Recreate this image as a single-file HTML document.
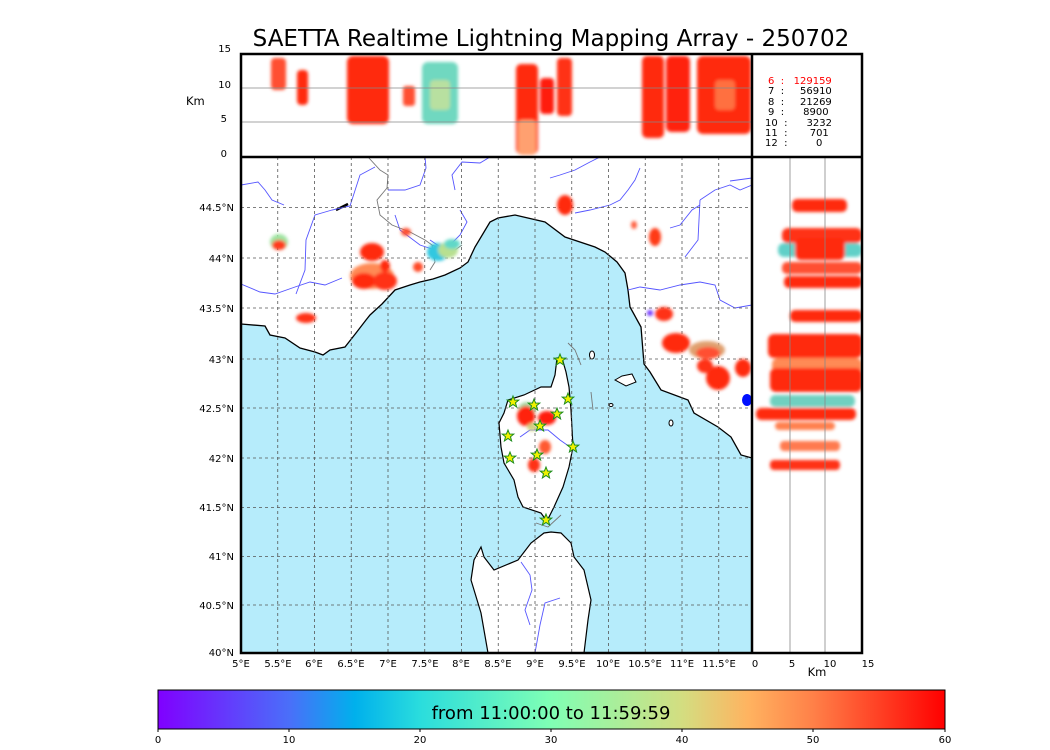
<!DOCTYPE html>
<html><head><style>
body{margin:0;background:#fff;}
svg{display:block;font-family:"DejaVu Sans","Liberation Sans",sans-serif;}
</style></head><body>
<svg width="1050" height="750" viewBox="0 0 1050 750" xmlns="http://www.w3.org/2000/svg">
<defs>
<linearGradient id="cb" x1="0" x2="1" y1="0" y2="0">
<stop offset="0" stop-color="#8000ff"/>
<stop offset="0.167" stop-color="#4a6ff9"/>
<stop offset="0.25" stop-color="#00b0ec"/>
<stop offset="0.333" stop-color="#2adddd"/>
<stop offset="0.5" stop-color="#80ffb4"/>
<stop offset="0.667" stop-color="#d4dd80"/>
<stop offset="0.75" stop-color="#ffb360"/>
<stop offset="0.833" stop-color="#ff8048"/>
<stop offset="1" stop-color="#ff0000"/>
</linearGradient>
<filter id="bl" x="-50%" y="-50%" width="200%" height="200%"><feGaussianBlur stdDeviation="1.6"/></filter>
<clipPath id="mapc"><rect x="241" y="157" width="511" height="496"/></clipPath>
<clipPath id="topc"><rect x="241" y="54" width="511" height="103"/></clipPath>
<clipPath id="rc"><rect x="752" y="157" width="110" height="496"/></clipPath>
<polygon id="st" points="0,-6 1.6,-2 5.8,-1.9 2.5,0.8 3.6,5 0,2.5 -3.6,5 -2.5,0.8 -5.8,-1.9 -1.6,-2"/>
</defs>

<text x="551" y="46" font-size="23" text-anchor="middle" fill="#000">SAETTA Realtime Lightning Mapping Array - 250702</text>

<g clip-path="url(#mapc)">
<rect x="241" y="157" width="511" height="496" fill="#b6ecfb"/>
<polygon fill="#fff" stroke="#000" stroke-width="1.3" points="241,157 752,157 752,458 741,455 731,437 718,427 694,413 688,400 661,390 650,372 644,364 641,327 630,307 628,290 625,273 617,262 605,252 595,247 565,237 545,222 515,215 498,218 490,222 475,247 468,262 460,268 445,275 433,279 420,282 410,285 395,290 382,304 370,315 366,320 356,333 345,347 330,350 323,355 315,352 300,348 285,338 270,335 265,326 241,324"/>
<polygon fill="#fff" stroke="#000" stroke-width="1.2" points="557,358 562,358 566,372 569,387 571,410 573,447 569,467 563,487 554,507 549,517 546,520 541,513 523,507 518,497 514,480 504,463 501,447 499,423 504,413 508,400 524,395 541,387 551,387 555,375"/>
<polygon fill="#fff" stroke="#000" stroke-width="1.2" points="551,532 561,533 571,543 574,557 584,570 591,600 588,620 584,653 488,653 481,613 471,580 474,560 481,547 484,557 494,570 518,560 531,543 544,533"/>
<polygon fill="#fff" stroke="#000" stroke-width="1" points="615,380 622,376 632,374 636,382 626,386"/>
<ellipse cx="592" cy="355" rx="2.5" ry="4" fill="#fff" stroke="#000"/>
<ellipse cx="611" cy="405" rx="2" ry="1.5" fill="#fff" stroke="#000"/>
<ellipse cx="671" cy="423" rx="2" ry="3" fill="#fff" stroke="#000"/>
<path d="M336,210 L348,204" stroke="#000" stroke-width="2.5"/>
<g fill="none" stroke="#5555ff" stroke-width="0.9">
<path d="M241,185 L258,182 L265,190 L272,200 L284,205"/>
<path d="M241,284 L260,292 L275,294 L295,287 L310,282 L325,285 L342,278"/>
<path d="M296,294 L305,270 L306,240 L315,215 L332,210 L350,206 L360,175 L375,167"/>
<path d="M388,190 L405,190 L420,185 L426,168 L425,157"/>
<path d="M395,215 L400,230 L420,245 L435,250"/>
<path d="M455,190 L452,175 L462,162 L480,163 L490,157"/>
<path d="M430,240 L445,250 L460,235 L467,222 L460,210"/>
<path d="M550,178 L560,175 L575,170 L590,162 L600,157"/>
<path d="M575,213 L590,210 L610,205 L620,200 L628,190 L635,180 L640,168"/>
<path d="M628,290 L640,287 L660,290 L680,285 L700,282 L715,285 L720,300 L735,308 L752,305"/>
<path d="M700,200 L715,190 L730,185 L740,190 L752,185"/>
<path d="M700,200 L698,240 L685,257"/>
<path d="M670,228 L680,225 L692,210 L700,205"/>
<path d="M730,181 L752,178"/>
<path d="M520,437 L530,430 L548,430 L560,440 L570,447"/>
<path d="M521,562 L530,575 L532,590 L525,610 L530,625"/>
<path d="M560,598 L545,603 L540,625 L535,653"/>
</g>
<g fill="none" stroke="#777" stroke-width="0.9">
<path d="M368,157 L380,170 L388,175 L387,188 L377,200 L380,215 L392,225 L410,232 L425,240 L432,245 L440,248 L455,250 L462,245"/>
<path d="M432,245 L435,262 L430,270"/>
<path d="M568,343 L575,350 L581,365"/>
<path d="M591,392 L593,410"/>
<path d="M536,523 L548,527 L561,515"/>
</g>
<g stroke="#555" stroke-width="0.8" stroke-dasharray="3,3">
<path d="M277.75,157V653M314.5,157V653M351.25,157V653M388,157V653M424.75,157V653M461.5,157V653M498.25,157V653M535,157V653M571.75,157V653M608.5,157V653M645.25,157V653M682,157V653M718.75,157V653"/>
<path d="M241,207.5H752M241,258H752M241,308H752M241,359H752M241,408H752M241,458H752M241,507.5H752M241,556.5H752M241,605H752"/>
</g>
<g filter="url(#bl)">
<ellipse cx="279" cy="242" rx="9" ry="8" fill="#9ee4a0"/>
<ellipse cx="279" cy="245" rx="7" ry="5" fill="#ff3a1a"/>
<ellipse cx="372" cy="252" rx="12" ry="9" fill="#ff2a10"/>
<ellipse cx="372" cy="276" rx="22" ry="13" fill="#ff8a55"/>
<ellipse cx="364" cy="281" rx="12" ry="8" fill="#ff2a10"/>
<ellipse cx="385" cy="281" rx="12" ry="9" fill="#ff3015"/>
<ellipse cx="385" cy="266" rx="5" ry="6" fill="#ff2a10"/>
<ellipse cx="406" cy="232" rx="5" ry="4" fill="#ff5030"/>
<ellipse cx="418" cy="267" rx="5" ry="5" fill="#ff4a25"/>
<ellipse cx="438" cy="252" rx="11" ry="9" fill="#30c8e0"/>
<ellipse cx="448" cy="250" rx="10" ry="8" fill="#b8e090"/>
<ellipse cx="452" cy="244" rx="8" ry="5" fill="#60d8c8"/>
<ellipse cx="565" cy="205" rx="8" ry="10" fill="#ff2a10"/>
<ellipse cx="655" cy="237" rx="6" ry="9" fill="#ff3a18"/>
<ellipse cx="634" cy="225" rx="3" ry="4" fill="#ff6040"/>
<ellipse cx="306" cy="318" rx="10" ry="5" fill="#ff3015"/>
<ellipse cx="664" cy="314" rx="9" ry="7" fill="#ff3015"/>
<ellipse cx="650" cy="313" rx="3" ry="3" fill="#7030ff"/>
<ellipse cx="676" cy="343" rx="14" ry="10" fill="#ff2a10"/>
<ellipse cx="707" cy="350" rx="18" ry="9" fill="#e0a070"/>
<ellipse cx="708" cy="353" rx="12" ry="6" fill="#ff5030"/>
<ellipse cx="718" cy="378" rx="12" ry="12" fill="#ff2a10"/>
<ellipse cx="705" cy="366" rx="8" ry="7" fill="#ff3015"/>
<ellipse cx="743" cy="368" rx="8" ry="9" fill="#ff2a10"/>
<ellipse cx="527" cy="410" rx="9" ry="8" fill="#a0d8a0"/>
<ellipse cx="526" cy="416" rx="9" ry="10" fill="#ff2010"/>
<ellipse cx="547" cy="418" rx="9" ry="7" fill="#ff1a08"/>
<ellipse cx="532" cy="427" rx="5" ry="4" fill="#d0d080"/>
<ellipse cx="545" cy="447" rx="6" ry="7" fill="#ff5a30"/>
<ellipse cx="534" cy="465" rx="6" ry="7" fill="#ff3015"/>
</g>
<ellipse cx="747" cy="400" rx="5" ry="6" fill="#0010ff"/>
<g fill="#f0f000" stroke="#1a8a1a" stroke-width="1">
<use href="#st" x="513" y="402"/><use href="#st" x="534" y="405"/><use href="#st" x="560" y="360"/>
<use href="#st" x="568" y="399"/><use href="#st" x="557" y="414"/><use href="#st" x="540" y="426"/>
<use href="#st" x="508" y="436"/><use href="#st" x="573" y="447"/><use href="#st" x="510" y="458"/>
<use href="#st" x="537" y="455"/><use href="#st" x="546" y="473"/><use href="#st" x="546" y="520"/>
</g>
</g>

<g clip-path="url(#topc)">
<g filter="url(#bl)">
<rect x="271" y="58" width="15" height="32" fill="#ff5030" rx="4"/>
<rect x="297" y="70" width="11" height="35" fill="#ff2a10" rx="4"/>
<rect x="347" y="56" width="42" height="68" fill="#ff2a10" rx="6"/>
<rect x="403" y="86" width="12" height="20" fill="#ff5030" rx="3"/>
<rect x="422" y="62" width="36" height="62" fill="#70d8c0" rx="6"/>
<rect x="430" y="80" width="20" height="30" fill="#b8e0a0" rx="4"/>
<rect x="516" y="64" width="22" height="90" fill="#ff2a10" rx="5"/>
<rect x="518" y="120" width="18" height="35" fill="#ffa070" rx="4"/>
<rect x="540" y="78" width="14" height="36" fill="#ff1a08" rx="4"/>
<rect x="557" y="58" width="15" height="58" fill="#ff3015" rx="4"/>
<rect x="642" y="56" width="22" height="82" fill="#ff2a10" rx="5"/>
<rect x="666" y="56" width="24" height="76" fill="#ff2010" rx="5"/>
<rect x="697" y="56" width="54" height="78" fill="#ff2a10" rx="6"/>
<rect x="715" y="80" width="20" height="30" fill="#ff7040" rx="4"/>
</g>
<path d="M241,88H752M241,122H752" stroke="#888" stroke-width="0.8"/>
</g>

<g clip-path="url(#rc)">
<g filter="url(#bl)">
<rect x="792" y="199" width="55" height="13" fill="#ff2a10" rx="5"/>
<rect x="782" y="228" width="80" height="15" fill="#ff3015" rx="6"/>
<rect x="778" y="243" width="84" height="14" fill="#60d0c8" rx="6"/>
<rect x="795" y="238" width="50" height="22" fill="#ff2a10" rx="6"/>
<rect x="782" y="262" width="80" height="12" fill="#ff5030" rx="5"/>
<rect x="784" y="276" width="78" height="12" fill="#ff2a10" rx="5"/>
<rect x="790" y="310" width="72" height="12" fill="#ff2a10" rx="5"/>
<rect x="768" y="334" width="94" height="24" fill="#ff2a10" rx="6"/>
<rect x="772" y="358" width="90" height="16" fill="#ff8a55" rx="6"/>
<rect x="770" y="368" width="92" height="24" fill="#ff2a10" rx="6"/>
<rect x="770" y="395" width="85" height="12" fill="#70d0c0" rx="5"/>
<rect x="756" y="408" width="100" height="12" fill="#ff2a10" rx="5"/>
<rect x="775" y="422" width="60" height="8" fill="#ff8050" rx="4"/>
<rect x="780" y="441" width="60" height="10" fill="#ff7a50" rx="4"/>
<rect x="770" y="460" width="70" height="10" fill="#ff3015" rx="4"/>
</g>
<path d="M790,157V653M825,157V653" stroke="#888" stroke-width="0.8"/>
</g>

<g fill="none" stroke="#000" stroke-width="2.5">
<rect x="241" y="54" width="621" height="599"/>
<path d="M241,157H862M752,54V653"/>
</g>

<g font-size="10" fill="#000">
<text x="768" y="84" fill="#ff0000" xml:space="preserve">6  :   129159</text>
<text x="768" y="94" xml:space="preserve">7  :     56910</text>
<text x="768" y="105" xml:space="preserve">8  :     21269</text>
<text x="768" y="115" xml:space="preserve">9  :      8900</text>
<text x="765" y="126" xml:space="preserve">10  :      3232</text>
<text x="765" y="136" xml:space="preserve">11  :       701</text>
<text x="765" y="146" xml:space="preserve">12  :         0</text>
</g>

<g font-size="10" fill="#000" text-anchor="end">
<text x="231" y="52">15</text><text x="231" y="88">10</text><text x="227" y="122">5</text><text x="227" y="157">0</text>
<text x="234" y="211">44.5°N</text><text x="234" y="262">44°N</text><text x="234" y="312">43.5°N</text>
<text x="234" y="363">43°N</text><text x="234" y="412">42.5°N</text><text x="234" y="462">42°N</text>
<text x="234" y="511">41.5°N</text><text x="234" y="560">41°N</text><text x="234" y="609">40.5°N</text><text x="234" y="656">40°N</text>
</g>
<text x="186" y="105" font-size="11.5">Km</text>
<g font-size="10" fill="#000" text-anchor="middle">
<text x="241" y="667">5°E</text><text x="278" y="667">5.5°E</text><text x="314" y="667">6°E</text>
<text x="351" y="667">6.5°E</text><text x="388" y="667">7°E</text><text x="425" y="667">7.5°E</text>
<text x="461" y="667">8°E</text><text x="498" y="667">8.5°E</text><text x="535" y="667">9°E</text>
<text x="572" y="667">9.5°E</text><text x="608" y="667">10°E</text><text x="645" y="667">10.5°E</text>
<text x="682" y="667">11°E</text><text x="719" y="667">11.5°E</text>
<text x="755" y="667">0</text><text x="792" y="667">5</text><text x="830" y="667">10</text><text x="868" y="667">15</text>
</g>
<text x="817" y="676" font-size="11.5" text-anchor="middle">Km</text>

<rect x="158" y="690" width="787" height="39" fill="url(#cb)" stroke="#000" stroke-width="1"/>
<text x="551" y="719" font-size="18" text-anchor="middle" fill="#000">from 11:00:00 to 11:59:59</text>
<g stroke="#000" stroke-width="1"><path d="M158,729v3M289,729v3M420,729v3M551,729v3M682,729v3M813,729v3M945,729v3"/></g>
<g font-size="10" text-anchor="middle" fill="#000">
<text x="158" y="743">0</text><text x="289" y="743">10</text><text x="420" y="743">20</text><text x="551" y="743">30</text>
<text x="682" y="743">40</text><text x="813" y="743">50</text><text x="945" y="743">60</text>
</g>
</svg>
</body></html>
